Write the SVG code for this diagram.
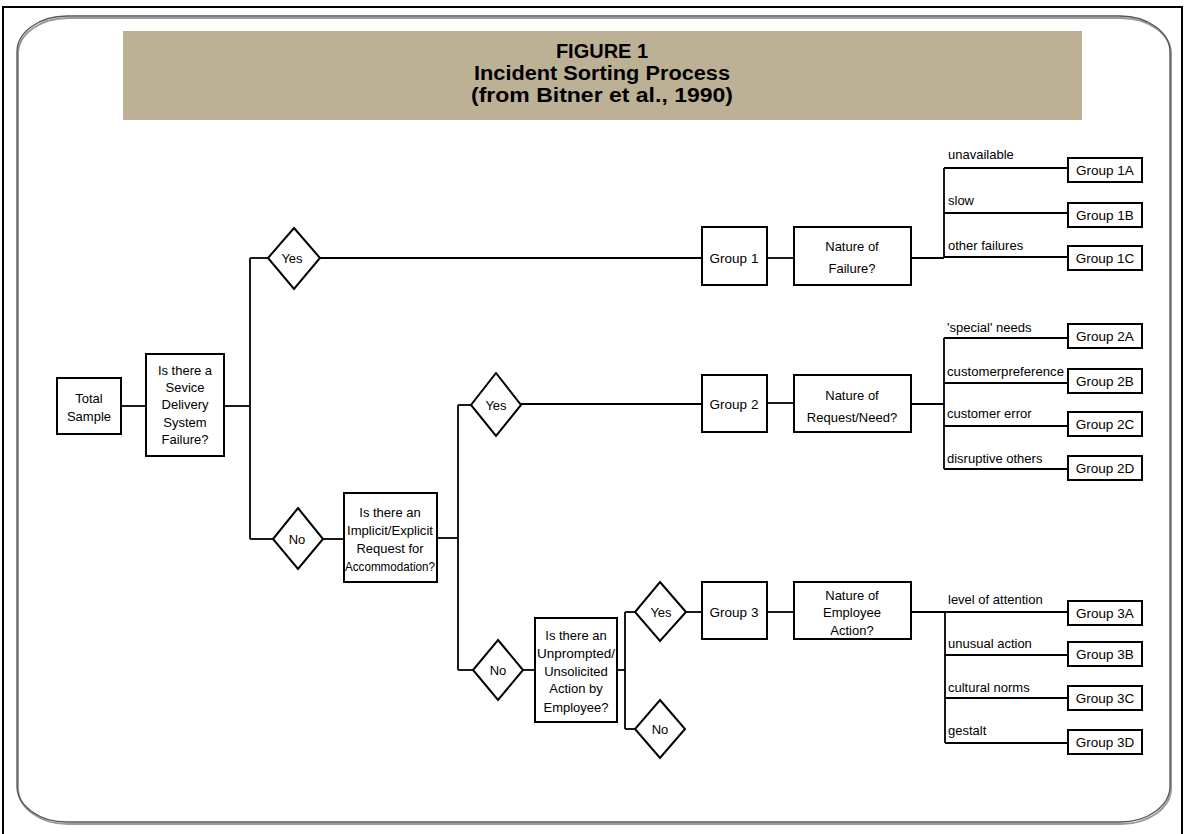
<svg xmlns="http://www.w3.org/2000/svg" width="1185" height="834" viewBox="0 0 1185 834">
<style>
.box{fill:#fff;stroke:#000;stroke-width:2}
.dia{fill:#fff;stroke:#000;stroke-width:2}
.ln{stroke:#000;stroke-width:1.8;fill:none}
.t{font-family:"Liberation Sans",Arial,sans-serif;font-size:13px;fill:#000;text-anchor:middle}
.g{font-family:"Liberation Sans",Arial,sans-serif;font-size:13.5px;fill:#000;text-anchor:middle}
.lb{font-family:"Liberation Sans",Arial,sans-serif;font-size:13px;fill:#000;text-anchor:start}
.ti{font-family:"Liberation Sans",Arial,sans-serif;font-size:20px;font-weight:bold;fill:#000;text-anchor:middle}
</style>
<rect x="0" y="0" width="1185" height="834" fill="#fff"/>
<path d="M3,840 V7 H1182 V840" fill="none" stroke="#000" stroke-width="2"/>
<rect x="18" y="18" width="1153" height="806" rx="50" ry="36" fill="none" stroke="#999" stroke-width="2"/>
<rect x="17" y="16" width="1153" height="806" rx="50" ry="36" fill="none" stroke="#555" stroke-width="1.3"/>
<g id="title">
<rect x="123" y="31" width="959" height="89" fill="#bdb195"/>
<text class="ti" x="602" y="58">FIGURE 1</text>
<text class="ti" x="602" y="80" textLength="256" lengthAdjust="spacingAndGlyphs">Incident Sorting Process</text>
<text class="ti" x="602" y="102" textLength="262" lengthAdjust="spacingAndGlyphs">(from Bitner et al., 1990)</text>
</g>
<g id="connectors">
<line class="ln" x1="121" y1="406" x2="146" y2="406"/>
<line class="ln" x1="224" y1="406" x2="250" y2="406"/>
<line class="ln" x1="250" y1="258" x2="250" y2="539"/>
<line class="ln" x1="250" y1="258" x2="268" y2="258"/>
<line class="ln" x1="320" y1="258" x2="702" y2="258"/>
<line class="ln" x1="767" y1="258" x2="794" y2="258"/>
<line class="ln" x1="911" y1="258" x2="944" y2="258"/>
<line class="ln" x1="944" y1="168" x2="944" y2="258"/>
<line class="ln" x1="944" y1="168" x2="1068" y2="168"/>
<line class="ln" x1="944" y1="213" x2="1068" y2="213"/>
<line class="ln" x1="944" y1="257" x2="1068" y2="257"/>
<line class="ln" x1="250" y1="539" x2="273" y2="539"/>
<line class="ln" x1="323" y1="539" x2="344" y2="539"/>
<line class="ln" x1="437" y1="538" x2="458" y2="538"/>
<line class="ln" x1="458" y1="405" x2="458" y2="670"/>
<line class="ln" x1="458" y1="405" x2="471" y2="405"/>
<line class="ln" x1="521" y1="404" x2="702" y2="404"/>
<line class="ln" x1="767" y1="403" x2="794" y2="403"/>
<line class="ln" x1="911" y1="404" x2="944" y2="404"/>
<line class="ln" x1="944" y1="338" x2="944" y2="469"/>
<line class="ln" x1="944" y1="338" x2="1068" y2="338"/>
<line class="ln" x1="944" y1="383" x2="1068" y2="383"/>
<line class="ln" x1="944" y1="426" x2="1068" y2="426"/>
<line class="ln" x1="944" y1="469" x2="1068" y2="469"/>
<line class="ln" x1="458" y1="670" x2="473" y2="670"/>
<line class="ln" x1="523" y1="670" x2="535" y2="670"/>
<line class="ln" x1="617" y1="670" x2="625" y2="670"/>
<line class="ln" x1="625" y1="612" x2="625" y2="729"/>
<line class="ln" x1="625" y1="612" x2="635" y2="612"/>
<line class="ln" x1="625" y1="729" x2="635" y2="729"/>
<line class="ln" x1="686" y1="612" x2="702" y2="612"/>
<line class="ln" x1="767" y1="612" x2="794" y2="612"/>
<line class="ln" x1="911" y1="612" x2="945" y2="612"/>
<line class="ln" x1="945" y1="612" x2="945" y2="743"/>
<line class="ln" x1="945" y1="612" x2="1068" y2="612"/>
<line class="ln" x1="945" y1="655" x2="1068" y2="655"/>
<line class="ln" x1="945" y1="698" x2="1068" y2="698"/>
<line class="ln" x1="945" y1="743" x2="1068" y2="743"/>
</g>
<g id="labels">
<text class="lb" x="948" y="159">unavailable</text>
<text class="lb" x="948" y="205">slow</text>
<text class="lb" x="948" y="250">other failures</text>
<text class="lb" x="947" y="332">'special' needs</text>
<text class="lb" x="947" y="376" textLength="117" lengthAdjust="spacingAndGlyphs">customerpreference</text>
<text class="lb" x="947" y="418">customer error</text>
<text class="lb" x="947" y="463">disruptive others</text>
<text class="lb" x="948" y="604">level of attention</text>
<text class="lb" x="948" y="648">unusual action</text>
<text class="lb" x="948" y="692">cultural norms</text>
<text class="lb" x="948" y="735">gestalt</text>
</g>
<g id="total-sample">
<rect class="box" x="57" y="378" width="64" height="56"/>
<text class="t" x="89" y="403">Total</text>
<text class="t" x="89" y="421">Sample</text>
</g>
<g id="q-failure">
<rect class="box" x="146" y="354" width="78" height="102"/>
<text class="t" x="185" y="375">Is there a</text>
<text class="t" x="185" y="392">Sevice</text>
<text class="t" x="185" y="409">Delivery</text>
<text class="t" x="185" y="427">System</text>
<text class="t" x="185" y="444">Failure?</text>
</g>
<g id="yes1">
<polygon class="dia" points="294,228 320,258 294,289 268,258"/>
<text class="t" x="292" y="263">Yes</text>
</g>
<g id="no1">
<polygon class="dia" points="298,508 323,539 298,569 273,539"/>
<text class="t" x="297" y="544">No</text>
</g>
<g id="q-request">
<rect class="box" x="344" y="493" width="93" height="89"/>
<text class="t" x="390" y="517">Is there an</text>
<text class="t" x="390" y="535" textLength="86" lengthAdjust="spacingAndGlyphs">Implicit/Explicit</text>
<text class="t" x="390" y="553">Request for</text>
<text class="t" x="390" y="571" textLength="90" lengthAdjust="spacingAndGlyphs">Accommodation?</text>
</g>
<g id="yes2">
<polygon class="dia" points="496,373 521,405 496,436 471,405"/>
<text class="t" x="496" y="410">Yes</text>
</g>
<g id="no2">
<polygon class="dia" points="498,640 523,670 498,700 473,670"/>
<text class="t" x="498" y="675">No</text>
</g>
<g id="q-unprompted">
<rect class="box" x="535" y="618" width="82" height="104"/>
<text class="t" x="576" y="640">Is there an</text>
<text class="t" x="576" y="658" textLength="78" lengthAdjust="spacingAndGlyphs">Unprompted/</text>
<text class="t" x="576" y="676">Unsolicited</text>
<text class="t" x="576" y="693">Action by</text>
<text class="t" x="576" y="712">Employee?</text>
</g>
<g id="yes3">
<polygon class="dia" points="660,582 686,612 660,641 635,612"/>
<text class="t" x="661" y="617">Yes</text>
</g>
<g id="no3">
<polygon class="dia" points="660,700 685,729 660,758 635,729"/>
<text class="t" x="660" y="734">No</text>
</g>
<g id="group1">
<rect class="box" x="702" y="227" width="65" height="58"/>
<text class="g" x="734" y="263">Group 1</text>
</g>
<g id="nature-failure">
<rect class="box" x="794" y="227" width="117" height="58"/>
<text class="t" x="852" y="251">Nature of</text>
<text class="t" x="852" y="273">Failure?</text>
</g>
<g id="group2">
<rect class="box" x="702" y="375" width="65" height="57"/>
<text class="g" x="734" y="409">Group 2</text>
</g>
<g id="nature-request">
<rect class="box" x="794" y="375" width="117" height="57"/>
<text class="t" x="852" y="400">Nature of</text>
<text class="t" x="852" y="422">Request/Need?</text>
</g>
<g id="group3">
<rect class="box" x="702" y="582" width="65" height="57"/>
<text class="g" x="734" y="617">Group 3</text>
</g>
<g id="nature-action">
<rect class="box" x="794" y="582" width="117" height="57"/>
<text class="t" x="852" y="600">Nature of</text>
<text class="t" x="852" y="617">Employee</text>
<text class="t" x="852" y="635">Action?</text>
</g>
<g id="group1a"><rect class="box" x="1068" y="158" width="74" height="24"/><text class="g" x="1105" y="175">Group 1A</text></g>
<g id="group1b"><rect class="box" x="1068" y="203" width="74" height="24"/><text class="g" x="1105" y="220">Group 1B</text></g>
<g id="group1c"><rect class="box" x="1068" y="246" width="74" height="24"/><text class="g" x="1105" y="263">Group 1C</text></g>
<g id="group2a"><rect class="box" x="1068" y="324" width="74" height="24"/><text class="g" x="1105" y="341">Group 2A</text></g>
<g id="group2b"><rect class="box" x="1068" y="369" width="74" height="24"/><text class="g" x="1105" y="386">Group 2B</text></g>
<g id="group2c"><rect class="box" x="1068" y="412" width="74" height="24"/><text class="g" x="1105" y="429">Group 2C</text></g>
<g id="group2d"><rect class="box" x="1068" y="456" width="74" height="24"/><text class="g" x="1105" y="473">Group 2D</text></g>
<g id="group3a"><rect class="box" x="1068" y="601" width="74" height="24"/><text class="g" x="1105" y="618">Group 3A</text></g>
<g id="group3b"><rect class="box" x="1068" y="642" width="74" height="24"/><text class="g" x="1105" y="659">Group 3B</text></g>
<g id="group3c"><rect class="box" x="1068" y="686" width="74" height="24"/><text class="g" x="1105" y="703">Group 3C</text></g>
<g id="group3d"><rect class="box" x="1068" y="730" width="74" height="24"/><text class="g" x="1105" y="747">Group 3D</text></g>
</svg>
